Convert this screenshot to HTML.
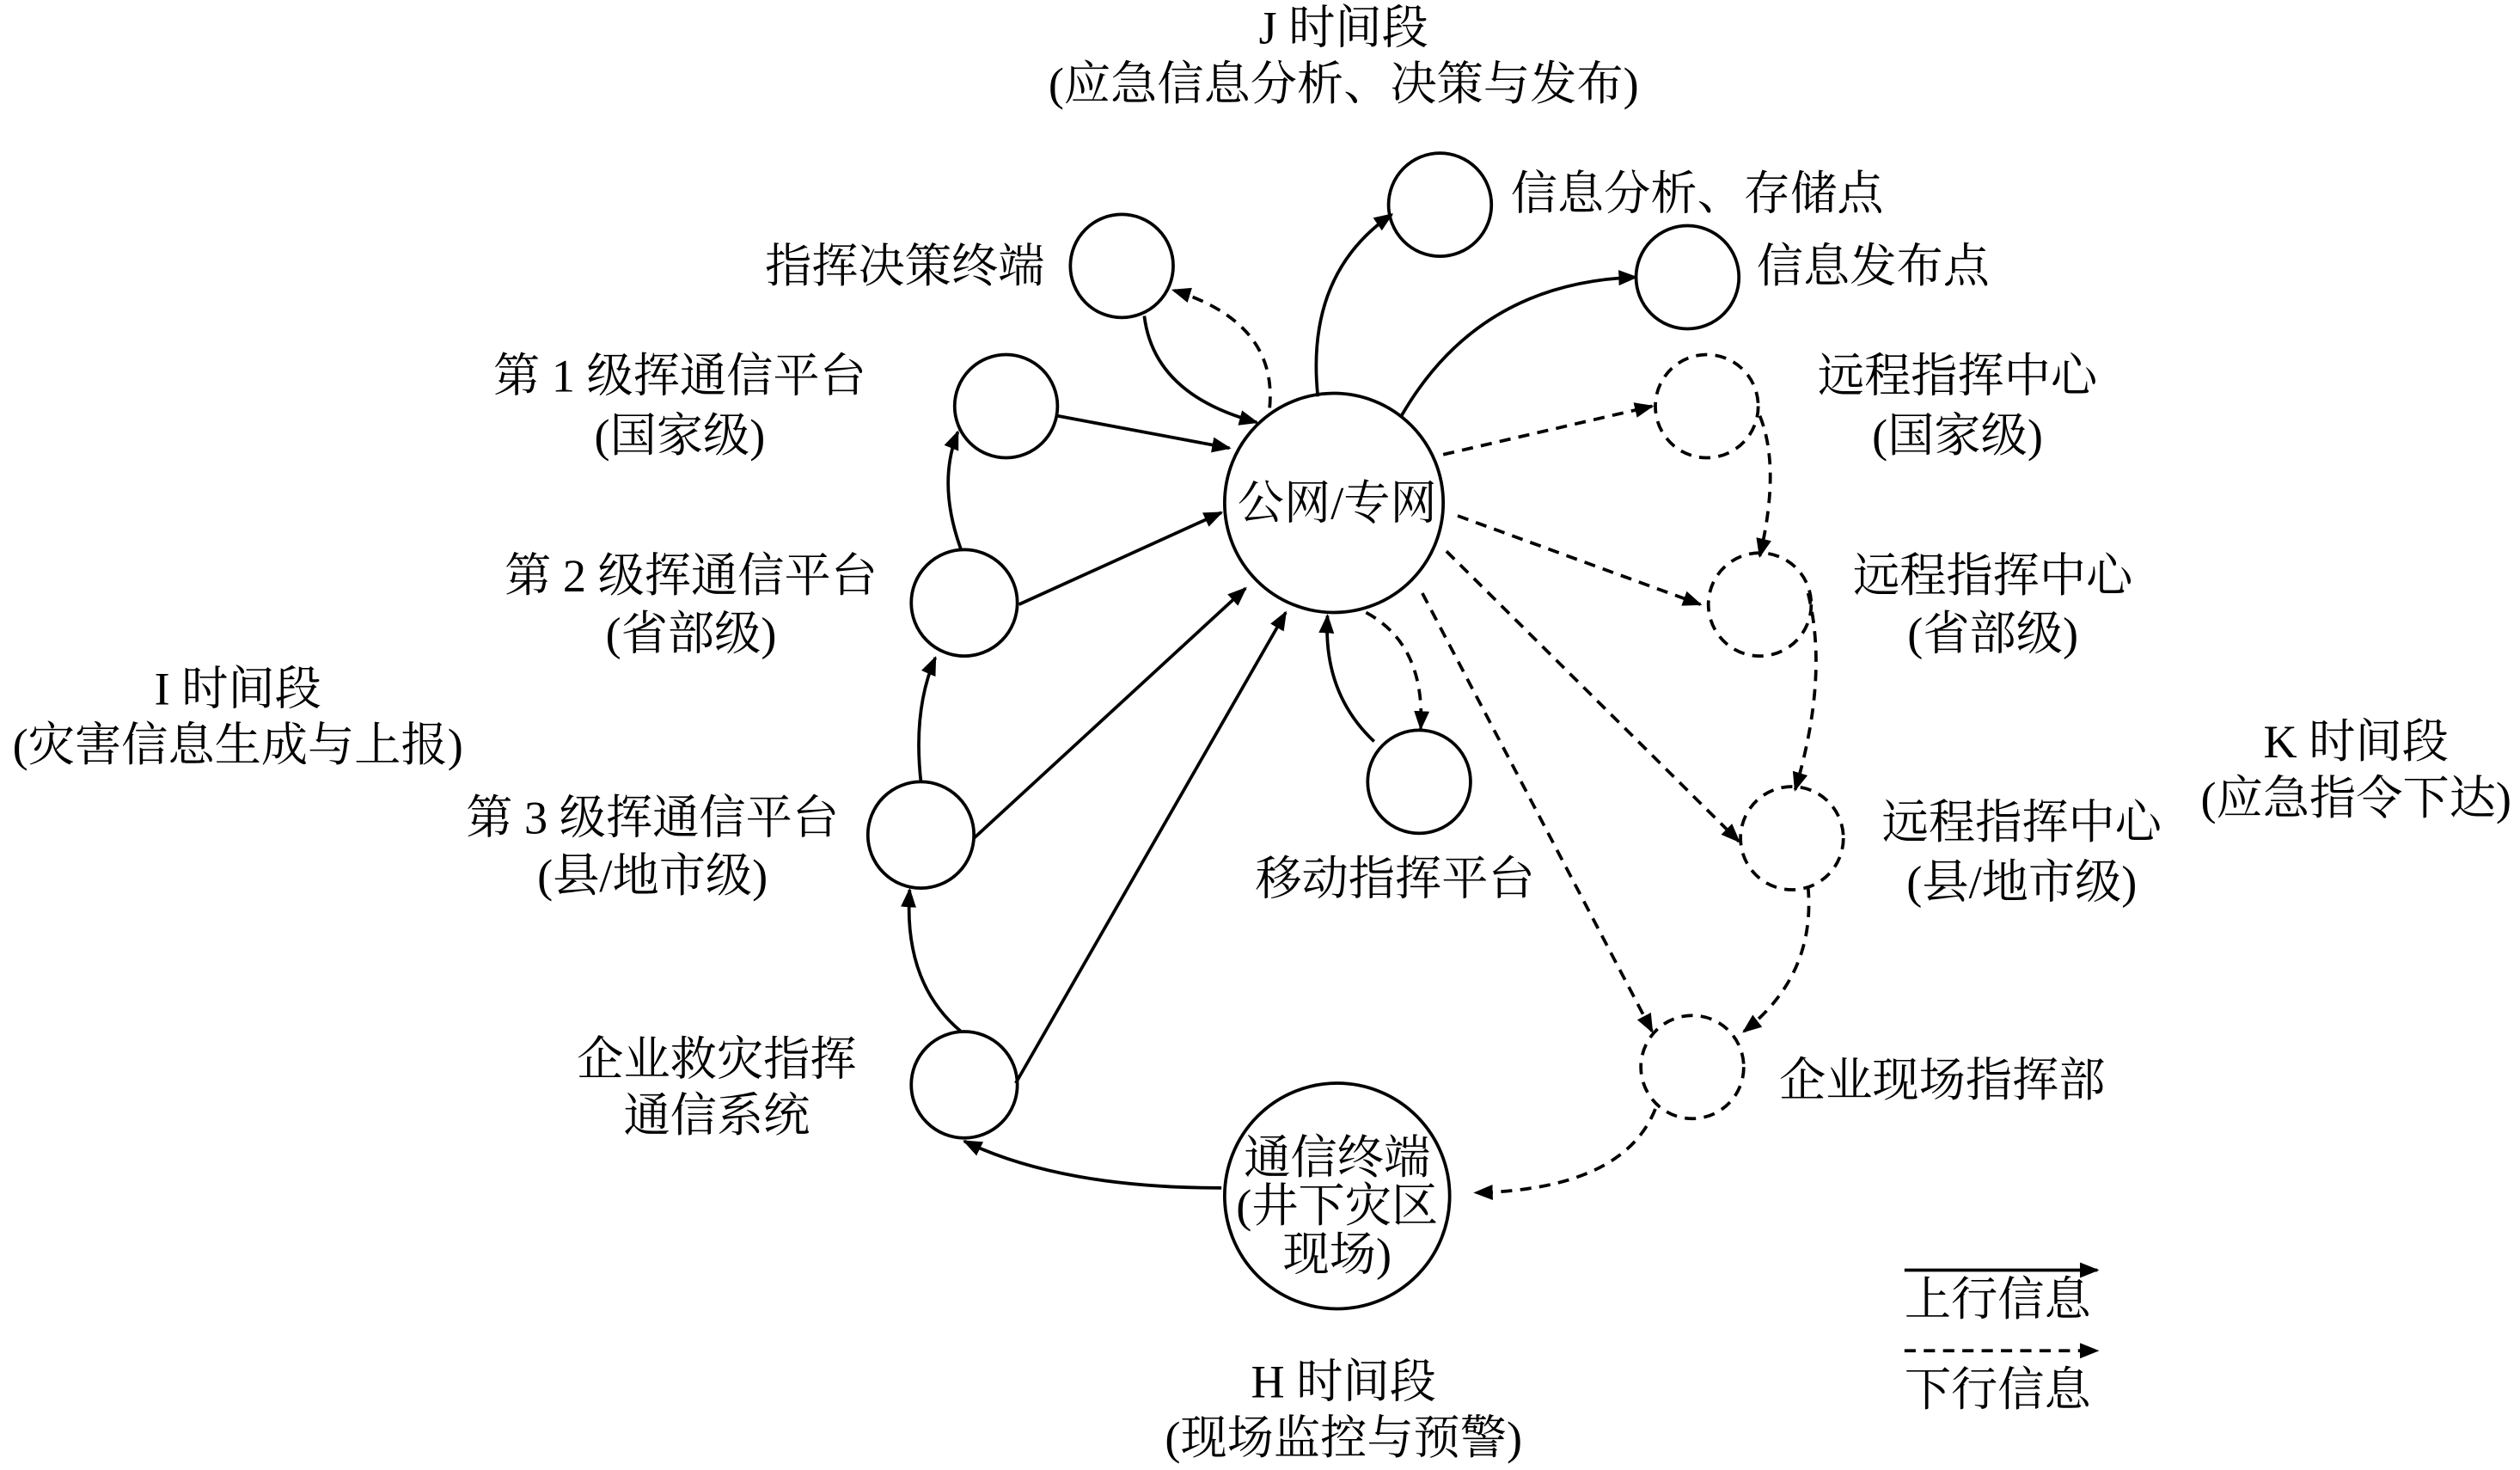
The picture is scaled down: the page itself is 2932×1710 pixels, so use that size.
<!DOCTYPE html>
<html><head><meta charset="utf-8"><style>
html,body{margin:0;padding:0;background:#fff;}
svg{display:block;}
text{font-family:"Liberation Serif","Noto Serif CJK SC",serif;font-size:29px;fill:#000;}
</style></head><body>
<svg width="2932" height="1710" viewBox="0 0 1568 912" preserveAspectRatio="none" xmlns="http://www.w3.org/2000/svg">
<defs>
<marker id="a" viewBox="0 0 10 10" refX="9" refY="5" markerWidth="12" markerHeight="12" markerUnits="userSpaceOnUse" orient="auto"><path d="M0,1 L10,5 L0,9 Z" fill="#000"/></marker>
</defs>
<g fill="none" stroke="#000" stroke-width="2">
<circle cx="830" cy="312" r="68"/>
<circle cx="896" cy="127" r="32"/>
<circle cx="1050" cy="172" r="32"/>
<circle cx="698" cy="165" r="32"/>
<circle cx="626" cy="252" r="32"/>
<circle cx="600" cy="374" r="33"/>
<circle cx="573" cy="518" r="33"/>
<circle cx="600" cy="673" r="33"/>
<circle cx="832" cy="742" r="70"/>
<circle cx="883" cy="485" r="32"/>
<g stroke-dasharray="7,5">
<circle cx="1062" cy="252" r="32"/>
<circle cx="1095" cy="375" r="32"/>
<circle cx="1115" cy="520" r="32"/>
<circle cx="1053" cy="662" r="32"/>
</g>
<g marker-end="url(#a)">
<path d="M820,246 Q812,170 866,133"/>
<path d="M872,258 Q920,175 1018,172"/>
<path d="M712,196 Q718,245 782,262"/>
<path d="M658,258 L765,278"/>
<path d="M634,375 L760,318"/>
<path d="M606,520 L775,365"/>
<path d="M632,672 L800,380"/>
<path d="M598,640 Q562,610 566,552"/>
<path d="M573,485 Q568,440 582,408"/>
<path d="M598,341 Q583,300 596,268"/>
<path d="M760,737 Q660,737 600,708"/>
<path d="M855,460 Q823,430 826,382"/>
<path d="M1185,788 L1305,788"/>
</g>
<g marker-end="url(#a)" stroke-dasharray="7,5">
<path d="M790,253 Q795,200 730,180"/>
<path d="M850,380 Q887,400 884,452"/>
<path d="M898,282 L1028,252"/>
<path d="M907,320 L1058,375"/>
<path d="M900,342 L1082,522"/>
<path d="M885,368 L1028,640"/>
<path d="M1095,258 Q1108,290 1095,345"/>
<path d="M1125,368 Q1138,420 1117,490"/>
<path d="M1125,550 Q1130,605 1085,640"/>
<path d="M1030,688 Q1010,738 918,740"/>
<path d="M1185,838 L1305,838"/>
</g>
</g>
<g text-anchor="middle">
<text x="836" y="27">J 时间段</text>
<text x="836" y="62">(应急信息分析、决策与发布)</text>
<text x="148" y="437">I 时间段</text>
<text x="148" y="472">(灾害信息生成与上报)</text>
<text x="1466" y="470">K 时间段</text>
<text x="1466" y="505">(应急指令下达)</text>
<text x="836" y="867">H 时间段</text>
<text x="836" y="902">(现场监控与预警)</text>
<text x="832" y="322">公网/专网</text>
<text x="832" y="728">通信终端</text>
<text x="832" y="758">(井下灾区</text>
<text x="832" y="788">现场)</text>
<text x="423" y="243">第 1 级挥通信平台</text>
<text x="423" y="280">(国家级)</text>
<text x="430" y="367">第 2 级挥通信平台</text>
<text x="430" y="403">(省部级)</text>
<text x="406" y="517">第 3 级挥通信平台</text>
<text x="406" y="553">(县/地市级)</text>
<text x="446" y="667">企业救灾指挥</text>
<text x="446" y="702">通信系统</text>
<text x="868" y="555">移动指挥平台</text>
<text x="1218" y="243">远程指挥中心</text>
<text x="1218" y="280">(国家级)</text>
<text x="1240" y="367">远程指挥中心</text>
<text x="1240" y="403">(省部级)</text>
<text x="1258" y="520">远程指挥中心</text>
<text x="1258" y="557">(县/地市级)</text>
<text x="1243" y="816">上行信息</text>
<text x="1243" y="872">下行信息</text>
</g>
<text x="940" y="130">信息分析、存储点</text>
<text x="1093" y="175">信息发布点</text>
<text x="650" y="175" text-anchor="end">指挥决策终端</text>
<text x="1107" y="680">企业现场指挥部</text>
</svg>
</body></html>
